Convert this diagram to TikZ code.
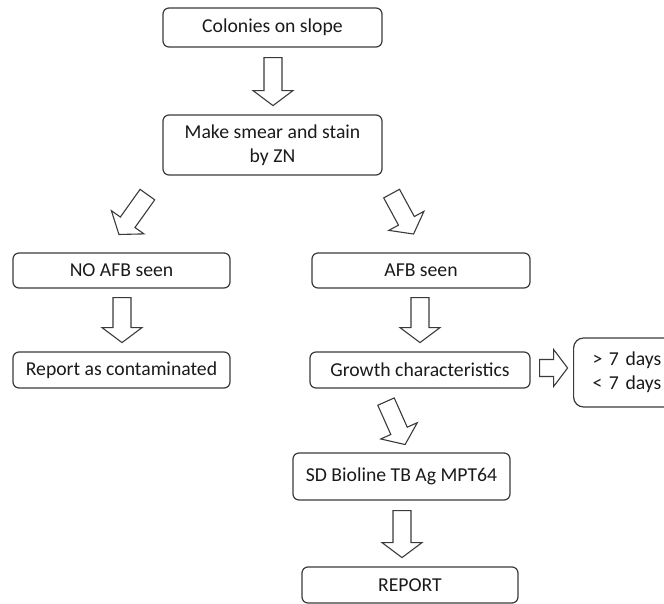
\documentclass[tikz,border=0pt]{standalone}
\usepackage{fontspec}
\setmainfont{Carlito}
\usetikzlibrary{calc}
\definecolor{edge}{HTML}{3A3A3A}
\definecolor{txt}{HTML}{1A1A1A}
\tikzset{
  box/.style={draw=edge, line width=1.2pt, rounded corners=6pt, text=txt,
    font=\fontsize{19.7}{24}\selectfont, align=center, inner sep=0pt},
  arrowline/.style={draw=edge, line width=1.1pt, line join=miter},
  barrowlen/.store in=\barrowlen, barrowlen=47,
  barrowshaft/.store in=\barrowshaft, barrowshaft=9,
  barrowhead/.store in=\barrowhead, barrowhead=20,
  barrowtip/.store in=\barrowtip, barrowtip=15,
  barrow/.pic={
    \draw[arrowline] (0,-\barrowshaft) -- ({\barrowlen-\barrowtip},-\barrowshaft)
      -- ({\barrowlen-\barrowtip},-\barrowhead) -- (\barrowlen,0)
      -- ({\barrowlen-\barrowtip},\barrowhead) -- ({\barrowlen-\barrowtip},\barrowshaft)
      -- (0,\barrowshaft) -- cycle;
  }
}
\begin{document}
\begin{tikzpicture}[x=1pt,y=-1pt]
\useasboundingbox (0,0) rectangle (664,604);
\clip (0,0) rectangle (664,604);
% boxes
\node[box, minimum width=219pt, minimum height=39pt] (b1) at (272.5,27.5) {Colonies on slope};
\node[box, minimum width=219pt, minimum height=60pt] (b2) at (272.5,145) {Make smear and stain\\by ZN};
\node[box, minimum width=217pt, minimum height=35pt] (b3) at (121.5,270.5) {NO AFB seen};
\node[box, minimum width=218pt, minimum height=35pt] (b4) at (421,270.5) {AFB seen};
\node[box, minimum width=217pt, minimum height=36pt] (b5) at (121.5,370) {Report as contaminated};
\node[box, minimum width=220pt, minimum height=36pt] (b6) at (420,370) {Growth characteristics};
\node[box, rounded corners=10pt, anchor=west, align=left, text width=100pt,
      inner xsep=19pt, minimum height=69pt] (b7) at (573,372.5) {> 7 days\\< 7 days};
\node[box, minimum width=217pt, minimum height=47pt] (b8) at (401.5,476.5) {SD Bioline TB Ag MPT64};
\node[box, minimum width=216pt, minimum height=36pt] (b9) at (410,585) {REPORT};
% block arrows
\pic[rotate=-90, barrowlen=48] at ($(b1.south)+(0.5,10)$) {barrow};
\pic[rotate=-125.5, barrowlen=49] at ($(b2.south west)+(-15,19)$) {barrow};
\pic[rotate=-61.5, barrowlen=46] at ($(b2.south east)+(9,18)$) {barrow};
\pic[rotate=-90, barrowlen=45] at ($(b3.south)+(0.5,9)$) {barrow};
\pic[rotate=-90, barrowlen=45] at ($(b4.south)+(-1,9)$) {barrow};
\pic[rotate=0, barrowlen=28, barrowshaft=8.5, barrowhead=18.5, barrowtip=14] at ($(b6.east)+(9,-2)$) {barrow};
\pic[rotate=-66, barrowlen=47] at ($(b6.south)+(-34,13)$) {barrow};
\pic[rotate=-90, barrowlen=47] at ($(b8.south)+(0.5,10)$) {barrow};
\end{tikzpicture}
\end{document}
